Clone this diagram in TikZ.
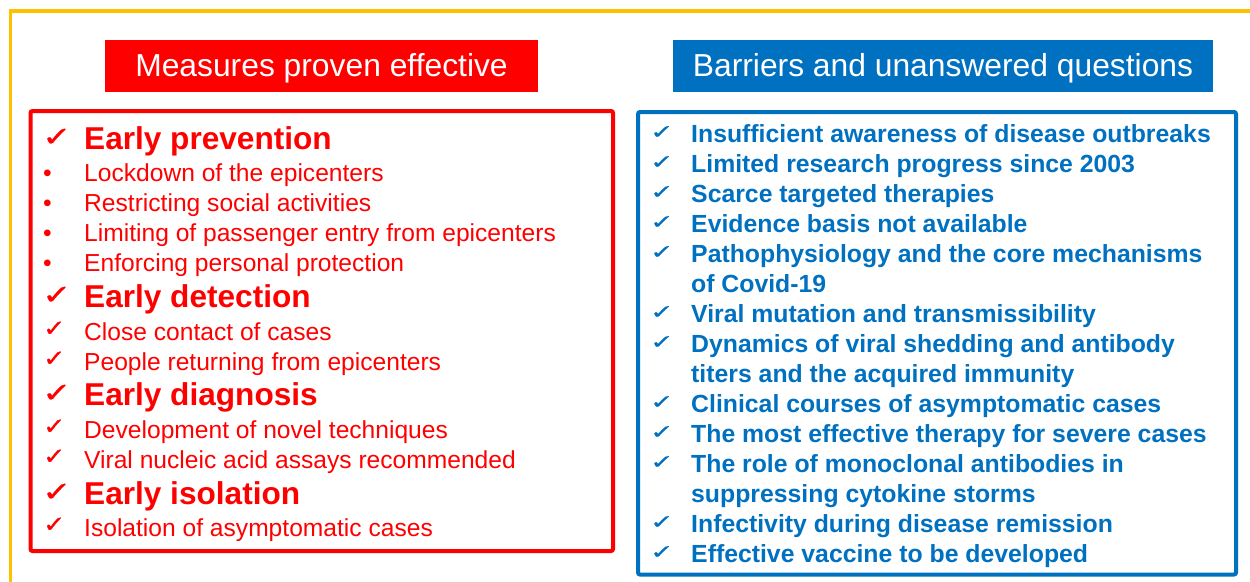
\documentclass[tikz,border=0pt]{standalone}
\usepackage{fontspec}
\setmainfont{Liberation Sans}
\newfontfamily\checkfont[FakeBold=0.8]{DejaVu Sans}
\usepackage{graphicx}
\usepackage{xcolor}
\definecolor{frameyellow}{HTML}{FFC000}
\definecolor{boxblue}{HTML}{0070C0}
\newcommand{\bigtick}{\scalebox{1}[0.78]{✓}}
\newcommand{\smalltick}{\scalebox{1}[0.86]{✓}}
\newcommand{\qtick}{\scalebox{1}[0.7]{✓}}

\begin{document}
\begin{tikzpicture}[x=1pt, y=-1pt,
  headtext/.style={anchor=base, inner sep=0pt, text=white, font=\fontsize{31.8}{36}\selectfont},
  bigitem/.style={anchor=base west, inner sep=0pt, text=red, font=\fontsize{31.6}{36}\bfseries\selectfont},
  smallitem/.style={anchor=base west, inner sep=0pt, text=red, font=\fontsize{24.6}{30}\selectfont},
  qitem/.style={anchor=base west, inner sep=0pt, text=boxblue, font=\fontsize{24.8}{30}\bfseries\selectfont},
  bigcheck/.style={anchor=base west, inner sep=0pt, text=red, font=\checkfont\fontsize{35}{40}\selectfont},
  smallcheck/.style={anchor=base west, inner sep=0pt, text=red, font=\checkfont\fontsize{26.5}{32}\selectfont},
  qcheck/.style={anchor=base west, inner sep=0pt, text=boxblue, font=\checkfont\fontsize{28}{32}\selectfont},
  dotmark/.style={anchor=base west, inner sep=0pt, text=red, font=\fontsize{24.6}{30}\selectfont}]
\useasboundingbox (0,0) rectangle (1250,581);
% outer frame, cut by the page on the right and bottom
\draw[frameyellow, line width=3.8pt] (10.5,700) -- (10.5,11.3) -- (1400,11.3);

% titles
\fill[red] (105,40) rectangle (538,91.5);
\node[headtext] (lefthead) at (321.5,76.7) {Measures proven effective};
\fill[boxblue] (673,40) rectangle (1213,91.5);
\node[headtext] (righthead) at (943,76.7) {Barriers and unanswered questions};

% boxes
\draw[red, line width=4pt, rounded corners=2pt] (30.5,111) rectangle (613,551);
\draw[boxblue, line width=4pt, rounded corners=2pt] (638,112) rectangle (1236,574.5);

% measures
\node[bigcheck] (c1) at (42,146) {\bigtick};
\node[bigitem] (m1) at (84,149) {Early prevention};
\node[dotmark] (d1) at (43,181) {•};
\node[smallitem] (s1) at (84,181) {Lockdown of the epicenters};
\node[dotmark] (d2) at (43,211) {•};
\node[smallitem] (s2) at (84,211) {Restricting social activities};
\node[dotmark] (d3) at (43,241) {•};
\node[smallitem] (s3) at (84,241) {Limiting of passenger entry from epicenters};
\node[dotmark] (d4) at (43,271) {•};
\node[smallitem] (s4) at (84,271) {Enforcing personal protection};
\node[bigcheck] (c2) at (42,304) {\bigtick};
\node[bigitem] (m2) at (84,307) {Early detection};
\node[smallcheck] (c3) at (43,336) {\smalltick};
\node[smallitem] (s5) at (84,340) {Close contact of cases};
\node[smallcheck] (c4) at (43,366) {\smalltick};
\node[smallitem] (s6) at (84,370) {People returning from epicenters};
\node[bigcheck] (c5) at (42,402) {\bigtick};
\node[bigitem] (m3) at (84,405) {Early diagnosis};
\node[smallcheck] (c6) at (43,434) {\smalltick};
\node[smallitem] (s7) at (84,438) {Development of novel techniques};
\node[smallcheck] (c7) at (43,464) {\smalltick};
\node[smallitem] (s8) at (84,468) {Viral nucleic acid assays recommended};
\node[bigcheck] (c8) at (42,501) {\bigtick};
\node[bigitem] (m4) at (84,504) {Early isolation};
\node[smallcheck] (c9) at (43,532) {\smalltick};
\node[smallitem] (s9) at (84,536) {Isolation of asymptomatic cases};

% barriers
\node[qcheck] (q1) at (650,138.5) {\qtick};
\node[qitem] (b1) at (691,142) {Insufficient awareness of disease outbreaks};
\node[qcheck] (q2) at (650,168.5) {\qtick};
\node[qitem] (b2) at (691,172) {Limited research progress since 2003};
\node[qcheck] (q3) at (650,198.5) {\qtick};
\node[qitem] (b3) at (691,202) {Scarce targeted therapies};
\node[qcheck] (q4) at (650,228.5) {\qtick};
\node[qitem] (b4) at (691,232) {Evidence basis not available};
\node[qcheck] (q5) at (650,258.5) {\qtick};
\node[qitem] (b5) at (691,262) {Pathophysiology and the core mechanisms};
\node[qitem] (b5b) at (691,292) {of Covid-19};
\node[qcheck] (q6) at (650,318.5) {\qtick};
\node[qitem] (b6) at (691,322) {Viral mutation and transmissibility};
\node[qcheck] (q7) at (650,348.5) {\qtick};
\node[qitem] (b7) at (691,352) {Dynamics of viral shedding and antibody};
\node[qitem] (b7b) at (691,382) {titers and the acquired immunity};
\node[qcheck] (q8) at (650,408.5) {\qtick};
\node[qitem] (b8) at (691,412) {Clinical courses of asymptomatic cases};
\node[qcheck] (q9) at (650,438.5) {\qtick};
\node[qitem] (b9) at (691,442) {The most effective therapy for severe cases};
\node[qcheck] (q10) at (650,468.5) {\qtick};
\node[qitem] (b10) at (691,472) {The role of monoclonal antibodies in};
\node[qitem] (b10b) at (691,502) {suppressing cytokine storms};
\node[qcheck] (q11) at (650,528.5) {\qtick};
\node[qitem] (b11) at (691,532) {Infectivity during disease remission};
\node[qcheck] (q12) at (650,558.5) {\qtick};
\node[qitem] (b12) at (691,562) {Effective vaccine to be developed};
\end{tikzpicture}
\end{document}
